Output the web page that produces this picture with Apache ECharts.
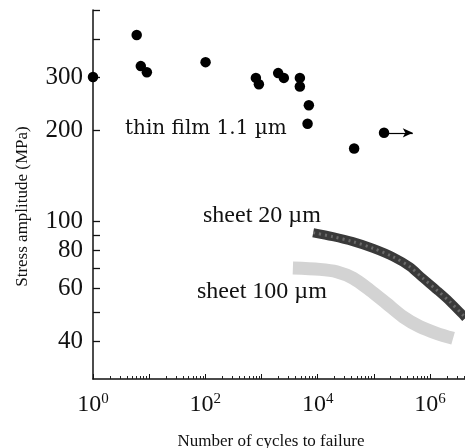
<!DOCTYPE html>
<html>
<head>
<meta charset="utf-8">
<script src="https://cdn.jsdelivr.net/npm/echarts@6/dist/echarts.min.js"></script>
<style>
html,body{margin:0;padding:0;background:#fff;}
#chart{width:465px;height:448px;}
</style>
</head>
<body>
<div id="chart"></div>
<script>
// ---- data ----
const thinFilmCycles = [1, 6.0, 7.1, 9.1, 101, 795, 899, 1980, 2500, 4820, 4820, 6970, 6610, 44600, 152000];
const thinFilmStress = [300, 413, 326, 311, 336, 298, 284, 309, 298, 298, 279, 242, 210, 174, 196];
const runoutStart = [152000, 196];
const runoutEnd = [494000, 196];

const sheet20Cycles = [8320, 18600, 42300, 95900, 218000, 437000, 745000, 1320000, 2250000, 3840000, 4300000];
const sheet20Stress = [91.5, 88.8, 85.5, 81.3, 76.2, 70.6, 64.7, 59.1, 54.1, 48.9, 47.8];

const sheet100Cycles = [3620, 10900, 21700, 42800, 84900, 168000, 332000, 659000, 1310000, 2580000];
const sheet100Stress = [69.9, 69.2, 68.0, 64.7, 59.1, 53.4, 48.2, 44.7, 42.5, 40.9];

// axis ticks / labels
const xLabelExponents = [0, 2, 4, 6];
const xMajorExponents = [0, 1, 2, 3, 4, 5, 6];
const xMinorMultipliers = [2, 3, 4, 5, 6, 7, 8, 9];
const yLabelValues = [40, 60, 80, 100, 200, 300];
const yTickValues = [40, 50, 60, 70, 80, 90, 100, 200, 300, 400, 500];
const xRange = [1, 4.2e6];
const yRange = [30, 500];

// ---- build ----
const L = Math.log10;
const pairs = (xs, ys) => xs.map((x, i) => [L(x), L(ys[i])]);
const xMinor = [];
xMajorExponents.forEach(e => xMinorMultipliers.forEach(m => {
  const v = L(m * Math.pow(10, e));
  if (v <= L(xRange[1])) xMinor.push(v);
}));

const serif = "'Liberation Serif', 'DejaVu Serif', serif";
const chart = echarts.init(document.getElementById('chart'), null, {renderer: 'canvas'});

chart.setOption({
  animation: false,
  backgroundColor: '#fff',
  grid: {left: 93, right: 0, top: 10, bottom: 69, containLabel: false, outerBoundsMode: 'none'},
  xAxis: [{
    type: 'value',
    min: L(xRange[0]), max: L(xRange[1]),
    name: 'Number of cycles to failure',
    nameLocation: 'middle', nameGap: 54,
    nameTextStyle: {fontFamily: serif, fontSize: 17, color: '#111', padding: [0, 16, 0, 0]},
    axisLine: {onZero: false, lineStyle: {color: '#111', width: 1.5}},
    axisTick: {inside: true, length: 5, customValues: xMajorExponents, lineStyle: {color: '#111'}},
    axisLabel: {
      customValues: xLabelExponents, margin: 13,
      formatter: v => '{b|10}{s|' + Math.round(v) + '}',
      rich: {
        b: {fontFamily: serif, fontSize: 24, color: '#111', lineHeight: 26},
        s: {fontFamily: serif, fontSize: 15, color: '#111', verticalAlign: 'top', lineHeight: 26, padding: [0, 0, 8, 0]}
      }
    },
    splitLine: {show: false}
  }, {
    type: 'value',
    position: 'bottom',
    min: L(xRange[0]), max: L(xRange[1]),
    axisLine: {show: false, onZero: false},
    axisTick: {inside: true, length: 3, customValues: xMinor, lineStyle: {color: '#222'}},
    axisLabel: {show: false},
    splitLine: {show: false}
  }],
  yAxis: {
    type: 'value',
    min: L(yRange[0]), max: L(yRange[1]),
    name: 'Stress amplitude (MPa)',
    nameLocation: 'middle', nameGap: 62, nameRotate: 90,
    nameTextStyle: {fontFamily: serif, fontSize: 17, color: '#111', padding: [0, 24, 0, 0]},
    axisLine: {onZero: false, lineStyle: {color: '#111', width: 1.5}},
    axisTick: {inside: true, length: 7, customValues: yTickValues.map(L), lineStyle: {color: '#111', width: 1.3}},
    axisLabel: {
      customValues: yLabelValues.map(L), margin: 10,
      fontFamily: serif, fontSize: 25, color: '#111',
      formatter: v => String(Math.round(Math.pow(10, v)))
    },
    splitLine: {show: false}
  },
  series: [
    {
      name: 'sheet 100 µm', type: 'line', smooth: 0.3, symbol: 'none',
      data: pairs(sheet100Cycles, sheet100Stress),
      lineStyle: {color: '#d3d3d3', width: 13, cap: 'butt'}, z: 2
    },
    {
      name: 'sheet 20 µm', type: 'line', smooth: 0.3, symbol: 'none',
      data: pairs(sheet20Cycles, sheet20Stress),
      lineStyle: {color: '#3a3a3a', width: 9, cap: 'butt'}, z: 3
    },
    {
      name: 'sheet 20 µm texture', type: 'line', smooth: 0.3, symbol: 'none',
      data: pairs(sheet20Cycles, sheet20Stress),
      lineStyle: {color: '#8a8a8a', width: 3, type: [2, 4], opacity: 0.6, cap: 'butt'}, z: 4
    },
    {
      name: 'thin film 1.1 µm', type: 'scatter', symbol: 'circle', symbolSize: 10.5,
      data: pairs(thinFilmCycles, thinFilmStress),
      itemStyle: {color: '#000', opacity: 1}, z: 5,
      markLine: {
        silent: true, symbol: ['none', 'arrow'], symbolSize: [7, 10],
        label: {show: false},
        lineStyle: {color: '#000', width: 1.2, type: 'solid'},
        data: [[{coord: [L(runoutStart[0]), L(runoutStart[1])]}, {coord: [L(runoutEnd[0]), L(runoutEnd[1])]}]]
      }
    }
  ],
  graphic: [
    {type: 'text', left: 125, top: 119, style: {text: 'thin film 1.1 µm', font: "20px 'DejaVu Serif', serif", fill: '#111'}},
    {type: 'text', left: 203, top: 204, style: {text: 'sheet 20 µm', font: '24px ' + serif, fill: '#111'}},
    {type: 'text', left: 197, top: 280, style: {text: 'sheet 100 µm', font: '24px ' + serif, fill: '#111'}}
  ]
});
</script>
</body>
</html>
